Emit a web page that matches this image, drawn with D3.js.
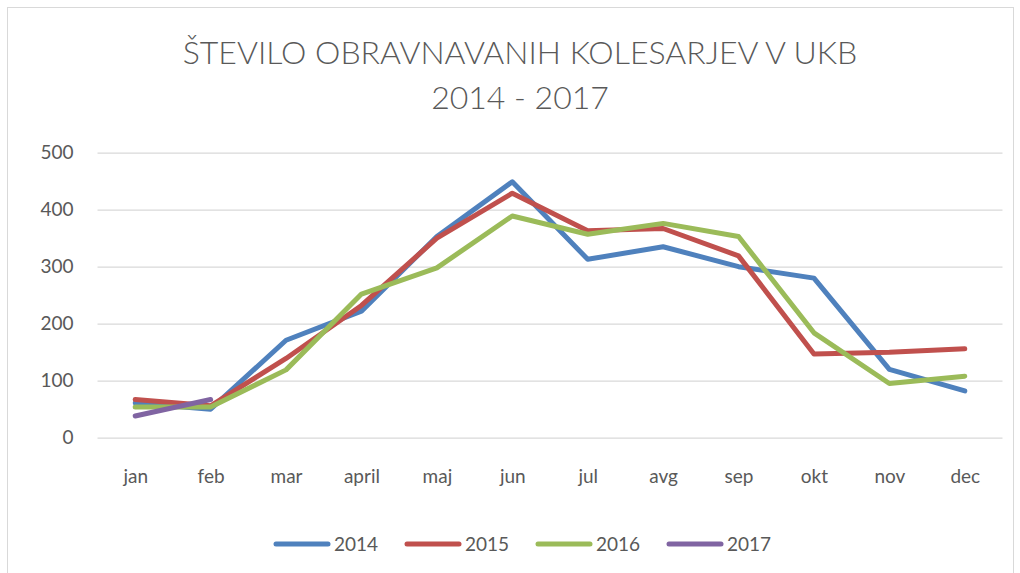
<!DOCTYPE html>
<html>
<head>
<meta charset="utf-8">
<script src="https://cdn.jsdelivr.net/npm/d3@7"></script>
<style>
  body { margin: 0; background: #fff; }
  svg text { font-family: Lato, "Open Sans", sans-serif; fill: #595959; }
</style>
</head>
<body>
<div id="chart"></div>
<script>
// chart data
const months = ['jan', 'feb', 'mar', 'april', 'maj', 'jun', 'jul', 'avg', 'sep', 'okt', 'nov', 'dec']
const years = ['2014', '2015', '2016', '2017']
const v2014 = [61, 50, 171, 222, 353, 449, 313, 335, 300, 280, 120, 82]
const v2015 = [67, 56, 139, 232, 350, 429, 363, 367, 319, 147, 150, 156]
const v2016 = [54, 54, 119, 252, 298, 389, 357, 376, 353, 184, 95, 108]
const v2017 = [38, 67]
const yTicks = [0, 100, 200, 300, 400, 500]
const colors = ['#4F81BD', '#C0504D', '#9BBB59', '#8064A2']

const w = 1020
const h = 573

const series = [v2014, v2015, v2016, v2017].map((vals, i) => ({
    name: years[i],
    color: colors[i],
    values: vals.map((v, j) => ({ m: months[j], v: v }))
}))

const svg = d3.select('#chart')
    .append('svg')
    .attr('width', w)
    .attr('height', h)

// outer border
svg.append('rect')
    .attr('x', 7.5).attr('y', 7.5)
    .attr('width', 1006).attr('height', 570)
    .attr('fill', 'none')
    .attr('stroke', '#d9d9d9')

// title
const title = svg.append('text')
    .attr('text-anchor', 'middle')
    .attr('font-size', 32)
    .attr('font-weight', 300)
title.append('tspan').attr('x', 520).attr('y', 64).text('ŠTEVILO OBRAVNAVANIH KOLESARJEV V UKB')
title.append('tspan').attr('x', 520).attr('y', 109).text('2014 - 2017')

// scales
const xScale = d3.scalePoint()
    .domain(months)
    .range([97.5, 1002.5])
    .padding(0.5)

const yScale = d3.scaleLinear()
    .domain([0, 500])
    .range([437.7, 152.7])

// grid lines + y labels
const yAxis = d3.axisLeft(yScale)
    .tickValues(yTicks)
    .tickSize(-(1002.5 - 97.5))
    .tickPadding(24)

const gy = svg.append('g')
    .attr('transform', 'translate(97.5,0)')
    .call(yAxis)
gy.select('.domain').remove()
gy.selectAll('line').attr('stroke', '#d9d9d9').attr('stroke-width', 1.2)
gy.selectAll('text').attr('font-size', 19).attr('fill', '#595959')
    .attr('font-family', 'Lato, sans-serif')

// x labels
const xAxis = d3.axisBottom(xScale).tickSize(0).tickPadding(32)
const gx = svg.append('g')
    .attr('transform', 'translate(0,437.7)')
    .call(xAxis)
gx.select('.domain').remove()
gx.selectAll('text').attr('font-size', 19).attr('fill', '#595959')
    .attr('font-family', 'Lato, sans-serif')

// lines
const line = d3.line()
    .x(d => xScale(d.m))
    .y(d => yScale(d.v))

svg.selectAll('.series')
    .data(series)
    .enter()
    .append('path')
    .attr('class', 'series')
    .attr('d', d => line(d.values))
    .attr('fill', 'none')
    .attr('stroke', d => d.color)
    .attr('stroke-width', 5)
    .attr('stroke-linecap', 'round')
    .attr('stroke-linejoin', 'round')

// legend
const legend = svg.selectAll('.legend')
    .data(series)
    .enter()
    .append('g')
    .attr('class', 'legend')
    .attr('transform', (d, i) => 'translate(' + (276 + i * 131) + ',544)')

legend.append('line')
    .attr('x1', 0).attr('x2', 52)
    .attr('stroke', d => d.color)
    .attr('stroke-width', 5)
    .attr('stroke-linecap', 'round')

legend.append('text')
    .attr('x', 58)
    .attr('y', 7)
    .attr('font-size', 19)
    .text(d => d.name)
</script>
</body>
</html>
